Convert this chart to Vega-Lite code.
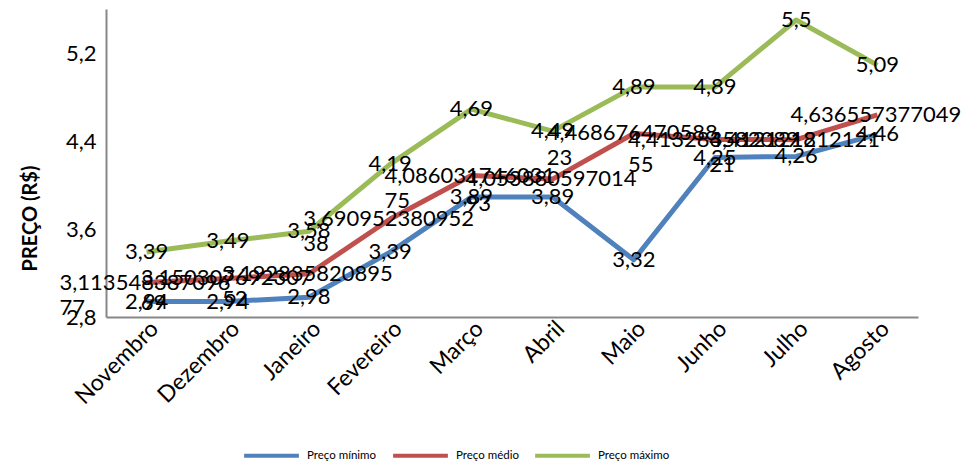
{
  "$schema": "https://vega.github.io/schema/vega-lite/v6.json",
  "autosize": {"type": "none"},
  "padding": {"left": 106, "top": 9, "right": 49, "bottom": 151},
  "width": 812,
  "height": 308,
  "data": {
    "values": [
      {"mes": "Novembro", "serie": "Preço mínimo", "valor": 2.94, "rotulo": "2,94"},
      {"mes": "Dezembro", "serie": "Preço mínimo", "valor": 2.94, "rotulo": "2,94"},
      {"mes": "Janeiro", "serie": "Preço mínimo", "valor": 2.98, "rotulo": "2,98"},
      {"mes": "Fevereiro", "serie": "Preço mínimo", "valor": 3.39, "rotulo": "3,39"},
      {"mes": "Março", "serie": "Preço mínimo", "valor": 3.89, "rotulo": "3,89"},
      {"mes": "Abril", "serie": "Preço mínimo", "valor": 3.89, "rotulo": "3,89"},
      {"mes": "Maio", "serie": "Preço mínimo", "valor": 3.32, "rotulo": "3,32"},
      {"mes": "Junho", "serie": "Preço mínimo", "valor": 4.25, "rotulo": "4,25"},
      {"mes": "Julho", "serie": "Preço mínimo", "valor": 4.26, "rotulo": "4,26"},
      {"mes": "Agosto", "serie": "Preço mínimo", "valor": 4.46, "rotulo": "4,46"},
      {"mes": "Novembro", "serie": "Preço médio", "valor": 3.11354838709677, "rotulo": "3,113548387096\n77"},
      {"mes": "Dezembro", "serie": "Preço médio", "valor": 3.15030769230769, "rotulo": "3,150307692307\n69"},
      {"mes": "Janeiro", "serie": "Preço médio", "valor": 3.19283582089552, "rotulo": "3,192835820895\n52"},
      {"mes": "Fevereiro", "serie": "Preço médio", "valor": 3.69095238095238, "rotulo": "3,690952380952\n38"},
      {"mes": "Março", "serie": "Preço médio", "valor": 4.08603174603175, "rotulo": "4,086031746031\n75"},
      {"mes": "Abril", "serie": "Preço médio", "valor": 4.05388059701493, "rotulo": "4,053880597014\n93"},
      {"mes": "Maio", "serie": "Preço médio", "valor": 4.46867647058823, "rotulo": "4,468676470588\n23"},
      {"mes": "Junho", "serie": "Preço médio", "valor": 4.41328358208955, "rotulo": "4,413283582089\n55"},
      {"mes": "Julho", "serie": "Preço médio", "valor": 4.41212121212121, "rotulo": "4,412121212121\n21"},
      {"mes": "Agosto", "serie": "Preço médio", "valor": 4.63655737704918, "rotulo": "4,636557377049\n18"},
      {"mes": "Novembro", "serie": "Preço máximo", "valor": 3.39, "rotulo": "3,39"},
      {"mes": "Dezembro", "serie": "Preço máximo", "valor": 3.49, "rotulo": "3,49"},
      {"mes": "Janeiro", "serie": "Preço máximo", "valor": 3.58, "rotulo": "3,58"},
      {"mes": "Fevereiro", "serie": "Preço máximo", "valor": 4.19, "rotulo": "4,19"},
      {"mes": "Março", "serie": "Preço máximo", "valor": 4.69, "rotulo": "4,69"},
      {"mes": "Abril", "serie": "Preço máximo", "valor": 4.49, "rotulo": "4,49"},
      {"mes": "Maio", "serie": "Preço máximo", "valor": 4.89, "rotulo": "4,89"},
      {"mes": "Junho", "serie": "Preço máximo", "valor": 4.89, "rotulo": "4,89"},
      {"mes": "Julho", "serie": "Preço máximo", "valor": 5.5, "rotulo": "5,5"},
      {"mes": "Agosto", "serie": "Preço máximo", "valor": 5.09, "rotulo": "5,09"}
    ]
  },
  "encoding": {
    "x": {
      "field": "mes",
      "type": "nominal",
      "sort": ["Novembro", "Dezembro", "Janeiro", "Fevereiro", "Março", "Abril", "Maio", "Junho", "Julho", "Agosto"],
      "scale": {"type": "point", "padding": 0.5},
      "axis": {"title": null, "labelAngle": -45, "labelPadding": 0, "labelFontSize": 23}
    },
    "y": {
      "field": "valor",
      "type": "quantitative",
      "scale": {"domain": [2.8, 5.6], "nice": false, "zero": false},
      "axis": {
        "title": "PREÇO (R$)",
        "values": [2.8, 3.6, 4.4, 5.2],
        "format": ".1f",
        "labelExpr": "replace(datum.label, '.', ',')",
        "labelPadding": 10,
        "labelFontSize": 22,
        "titleFontWeight": "bold",
        "titleFontSize": 20,
        "titleX": -76,
        "titleY": 209,
        "titleAlign": "center",
        "titleBaseline": "middle"
      }
    }
  },
  "layer": [
    {
      "mark": {"type": "line", "strokeWidth": 5, "strokeJoin": "round"},
      "encoding": {
        "color": {
          "field": "serie",
          "type": "nominal",
          "sort": ["Preço mínimo", "Preço médio", "Preço máximo"],
          "scale": {
            "domain": ["Preço mínimo", "Preço médio", "Preço máximo"],
            "range": ["#4F81BD", "#C0504D", "#9BBB59"]
          },
          "legend": {
            "title": null,
            "orient": "none",
            "direction": "horizontal",
            "legendX": 136,
            "legendY": 417,
            "symbolType": "stroke",
            "symbolSize": 3000,
            "symbolStrokeWidth": 4,
            "labelFontSize": 11.5,
            "labelOffset": 6,
            "columnPadding": 8
          }
        }
      }
    },
    {
      "transform": [{"filter": "datum.serie != 'Preço médio'"}],
      "mark": {"type": "text", "fontSize": 22, "font": "Lato", "color": "black", "baseline": "middle", "align": "center"},
      "encoding": {"text": {"field": "rotulo"}}
    },
    {
      "transform": [{"filter": "datum.serie == 'Preço médio'"}],
      "mark": {"type": "text", "fontSize": 22, "font": "Lato", "color": "black", "baseline": "middle", "align": "left", "dx": -87, "lineBreak": "\n", "lineHeight": 25},
      "encoding": {"text": {"field": "rotulo"}}
    }
  ],
  "config": {
    "view": {"stroke": null},
    "font": "Lato",
    "axis": {
      "grid": false,
      "ticks": false,
      "domainColor": "#878787",
      "domainWidth": 2,
      "labelFont": "Lato",
      "labelColor": "black",
      "titleFont": "Lato",
      "titleColor": "black"
    },
    "legend": {"labelFont": "Lato", "labelColor": "black"}
  }
}
